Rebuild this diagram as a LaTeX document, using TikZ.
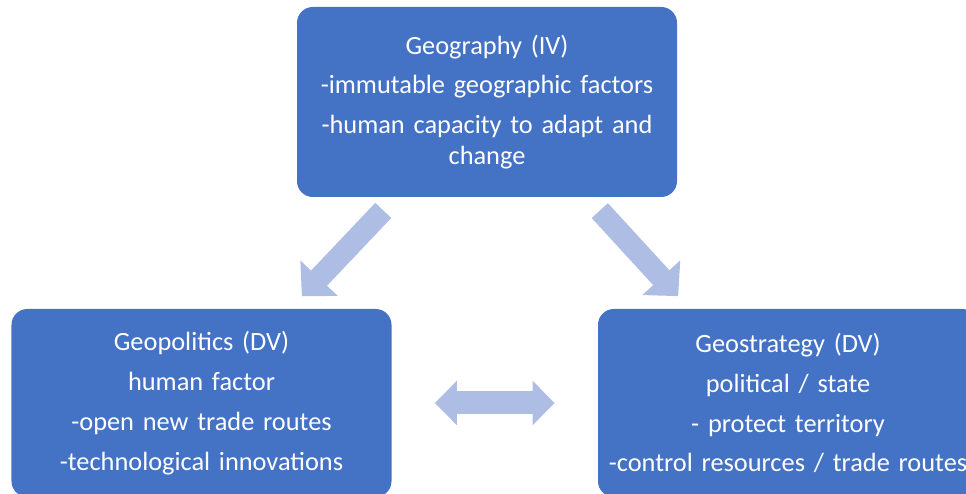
\documentclass[tikz,border=0pt]{standalone}
\usepackage{fontspec}
\setmainfont{Carlito}
\usetikzlibrary{arrows.meta,calc}
\definecolor{BoxBlue}{HTML}{4472C4}
\definecolor{ArrowTint}{HTML}{AEBDE3}

\begin{document}
\begin{tikzpicture}[
      factor/.style={fill=BoxBlue,rounded corners=9pt,text=white,
                     minimum width=7.6cm,text width=7.5cm,align=center,
                     inner sep=1pt,font=\fontsize{15pt}{17.6pt}\selectfont},
      flow/.style={draw=ArrowTint,line width=0.44cm,
                   -{Triangle[length=0.5cm,width=1cm,fill=ArrowTint]},
                   shorten <=0.36cm,shorten >=0.34cm},
      twoway/.style={draw=ArrowTint,line width=0.46cm,
                     {Triangle[length=0.44cm,width=0.86cm,fill=ArrowTint]}-{Triangle[length=0.44cm,width=0.86cm,fill=ArrowTint]},
                     shorten <=0.86cm,shorten >=0.86cm},
    ]
    \useasboundingbox (0,0) rectangle (19.32,9.88);

    \node[factor,minimum height=3.8cm] (geo) at (9.74,7.84)
         {Geography (IV)\\[5.1pt] -immutable geographic factors\\[5.1pt] -human capacity to adapt and\\ change};
    \node[factor,minimum height=3.76cm] (gpol) at (4.03,1.82)
         {Geopolitics (DV)\\[5.1pt] human factor\\[5.1pt] -open new trade routes\\[5.1pt] -technological innovations};
    \node[factor,minimum height=3.76cm] (gstrat) at (15.76,1.82)
         {Geostrategy (DV)\\[5.1pt] political / state\\[5.1pt] - protect territory\\[5.1pt] -control resources / trade routes};

    \draw[flow] ($(geo.south west)+(1.98,0)$) -- ($(gpol.north west)+(5.58,0)$);
    \draw[flow] ($(geo.south west)+(5.82,0)$) -- ($(gstrat.north west)+(1.84,0)$);
    \draw[twoway] (gpol.east) -- (gstrat.west);
  \end{tikzpicture}
\end{document}
